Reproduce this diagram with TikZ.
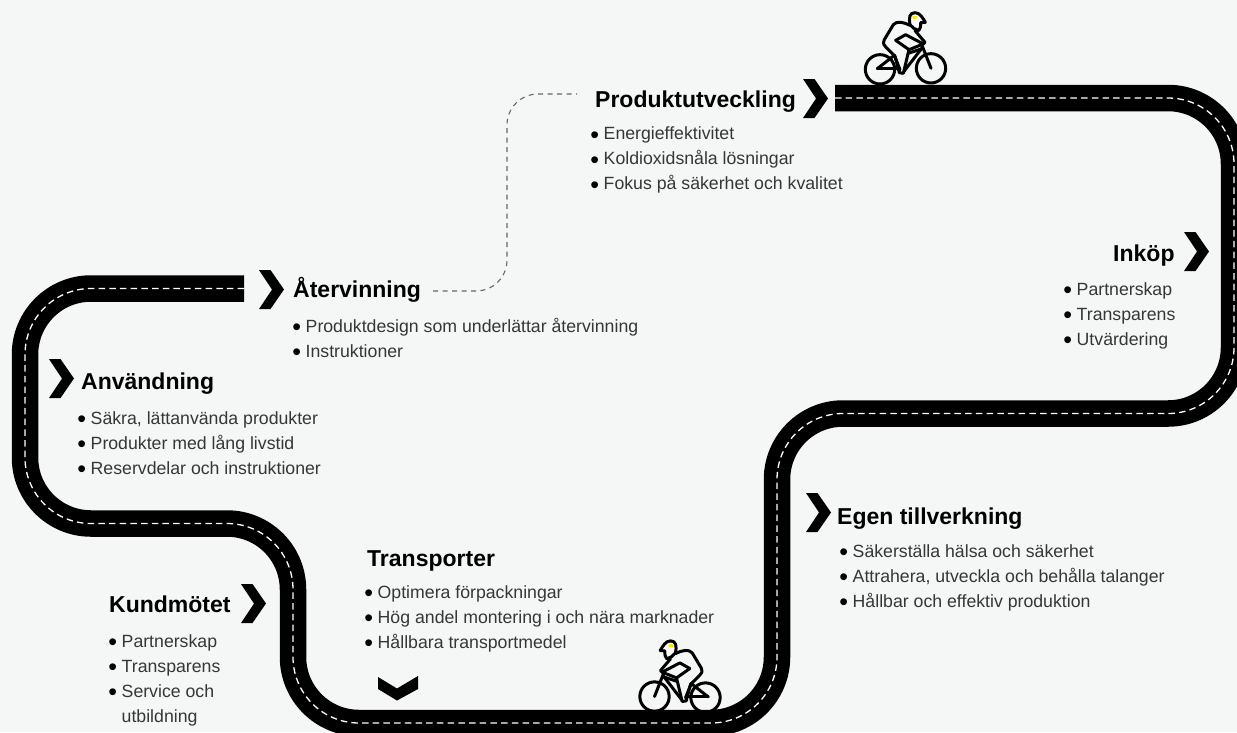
\documentclass[tikz,border=0pt]{standalone}
\usepackage{fontspec}
\setmainfont{Liberation Sans}
\usetikzlibrary{calc}
\definecolor{bgc}{HTML}{F5F7F6}
\definecolor{bodyc}{HTML}{363636}
\newcommand{\bl}{\makebox[12.5pt][l]{\hspace{-0.8pt}\textcolor{black}{\fontsize{25}{25}\selectfont\raisebox{-3.2pt}{•}}}}
\newcommand{\chev}[2]{\fill[black] (#1,#2) -- ++(11.5,0) -- ++(13.5,19.5) -- ++(-13.5,19.5) -- ++(-11.5,0) -- ++(13,-19.5) -- cycle;}
\newcommand{\cyclist}{%
  \draw[bike] (60,184) circle (44);
  \draw[bike] (213,181) circle (44);
  \draw[bike,fill=white] (150,50) .. controls (146,30) and (148,14) .. (165,14) .. controls (180,14) and (188,30) .. (196,43) -- (182,44) .. controls (182,55) and (182,62) .. (176,68) .. controls (165,62) and (155,60) .. (150,50) -- cycle;
  \fill[yellow!90!orange] (164,28) ellipse (8 and 5);
  \draw[bike] (150,52) .. controls (130,42) and (110,38) .. (100,50) -- (73,95) .. controls (68,108) and (72,112) .. (78,118) -- (105,145) -- (118,194) -- (130,196) -- (147,125) -- (190,108) -- (195,103) -- (165,68);
  \draw[bike] (107,97) -- (137,80) -- (190,108);
  \draw[bike] (107,97) -- (147,125);
  \draw[bike] (186,112) -- (213,181);
  \draw[bike] (186,120) -- (132,190);
  \draw[bike] (186,122) -- (147,135);
  \draw[bike] (52,182) -- (103,142);
  \draw[bike] (52,182) -- (118,182);
  \draw[bike] (103,142) -- (120,185);
}
\tikzset{
  road/.style={line width=26.5pt,black,rounded corners=66pt},
  roadmark/.style={line width=1.3pt,white,rounded corners=66pt,dash pattern=on 6.5pt off 4.2pt},
  conn/.style={line width=1.1pt,black!60,rounded corners=31pt,dash pattern=on 5pt off 4.5pt},
  head/.style={anchor=base west,inner sep=0pt,font=\bfseries\fontsize{23}{26}\selectfont,text=black},
  items/.style={anchor=north west,inner sep=0pt,align=left,text=bodyc,font=\fontsize{17.7}{25}\selectfont},
  bike/.style={line width=3pt,black,line join=round,line cap=round},
}
\newcommand{\itm}[1]{\strut\bl #1}
\begin{document}
\begin{tikzpicture}[x=1pt,y=-1pt]
\useasboundingbox (0,0) rectangle (1237,732);
\clip (0,0) rectangle (1237,732);
\fill[bgc] (0,0) rectangle (1237,732);
\def\roadpath{(835,98) -- (1234,98) -- (1234,413.5) -- (777,413.5) -- (777,723) -- (293,723) -- (293,523.5) -- (25,523.5) -- (25,288.5) -- (244,288.5)}
\draw[road,line cap=butt] \roadpath;
\draw[roadmark] \roadpath;
% headings
\node[head] (prod) at (595,107) {Produktutveckling};
\node[head] (inkop) at (1113,261) {Inköp};
\node[head] (egen) at (837,524) {Egen tillverkning};
\node[head] (trans) at (367,566.5) {Transporter};
\node[head] (kund) at (109,612) {Kundmötet};
\node[head] (anv) at (81,389.5) {Användning};
\node[head] (aterv) at (293,297.5) {Återvinning};
% lists: top = first baseline - 17.5
\node[items] (lprod) at (591,122.2) {\itm{Energieffektivitet}\\\itm{Koldioxidsnåla lösningar}\\\itm{Fokus på säkerhet och kvalitet}};
\node[items] (linkop) at (1064,277.5) {\itm{Partnerskap}\\\itm{Transparens}\\\itm{Utvärdering}};
\node[items] (legen) at (840,540) {\itm{Säkerställa hälsa och säkerhet}\\\itm{Attrahera, utveckla och behålla talanger}\\\itm{Hållbar och effektiv produktion}};
\node[items] (ltrans) at (365,580.8) {\itm{Optimera förpackningar}\\\itm{Hög andel montering i och nära marknader}\\\itm{Hållbara transportmedel}};
\node[items] (lkund) at (109,629.5) {\itm{Partnerskap}\\\itm{Transparens}\\\itm{Service och}\\\strut\hspace{12.5pt}utbildning};
\node[items] (lanv) at (78,406.5) {\itm{Säkra, lättanvända produkter}\\\itm{Produkter med lång livstid}\\\itm{Reservdelar och instruktioner}};
\node[items] (later) at (293,315) {\itm{Produktdesign som underlättar återvinning}\\\itm{Instruktioner}};
% chevrons
\chev{803}{79}
\chev{1184}{232}
\chev{806}{493}
\chev{241}{584}
\chev{49}{359}
\chev{259}{270}
\fill[black] (378,677) -- (397,688.5) -- (418,676) -- (418,689) -- (397,700.5) -- (378,689) -- cycle;
% dashed link
\coordinate (ca) at (433,291);
\coordinate (cb) at (577,94);
\draw[conn] (ca) -- (507,291) -- (507,94) -- (cb);
% cyclists
\begin{scope}[shift={(860,8)},x=0.3333pt,y=-0.3333pt]
\cyclist
\end{scope}
\begin{scope}[shift={(725.5,636.2)},x=-0.3333pt,y=-0.3333pt]
\cyclist
\end{scope}
\end{tikzpicture}
\end{document}
